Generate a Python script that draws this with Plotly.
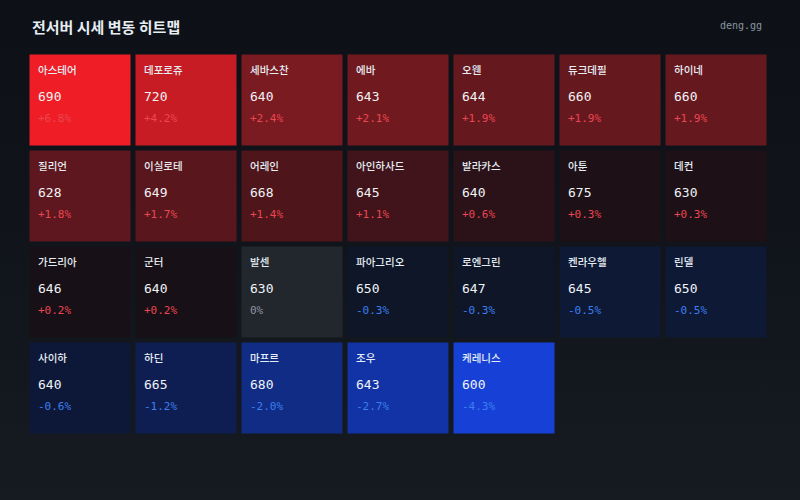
import plotly.graph_objects as go

# ---- data ----
names = ["아스테어", "데포로쥬", "세바스찬", "에바", "오웬", "듀크데필", "하이네",
         "질리언", "이실로테", "어레인", "아인하사드", "발라카스", "아툰", "데컨",
         "가드리아", "군터", "발센", "파아그리오", "로엔그린", "켄라우헬", "린델",
         "사이하", "하딘", "마프르", "조우", "케레니스"]
prices = [690, 720, 640, 643, 644, 660, 660,
          628, 649, 668, 645, 640, 675, 630,
          646, 640, 630, 650, 647, 645, 650,
          640, 665, 680, 643, 600]
changes = [6.8, 4.2, 2.4, 2.1, 1.9, 1.9, 1.9,
           1.8, 1.7, 1.4, 1.1, 0.6, 0.3, 0.3,
           0.2, 0.2, 0.0, -0.3, -0.3, -0.5, -0.5,
           -0.6, -1.2, -2.0, -2.7, -4.3]
title_text = "전서버 시세 변동 히트맵"
brand_text = "deng.gg"

# ---- layout constants ----
W, H = 800, 500
NCOL = 7
NROW = (len(names) + NCOL - 1) // NCOL
GAP = 5
GX0, GX1 = 27.5, 769.5   # grid pixel extents (cells incl. half gaps)
GY0, GY1 = 52.5, 436.5
CW = (GX1 - GX0) / NCOL
CH = (GY1 - GY0) / NROW

# colour anchors (change -> tile colour)
anchors = [(-4.3, "#1741d6"), (-2.7, "#1133a5"), (-2.0, "#112c85"), (-1.2, "#0f1e52"),
           (-0.6, "#0d1838"), (-0.5, "#0e1936"), (-0.3, "#0e1628"), (-0.05, "#0e1628"),
           (0.0, "#22272e"), (0.05, "#161016"), (0.2, "#171016"), (0.3, "#1d1117"),
           (0.6, "#2a1218"), (1.1, "#40141a"), (1.4, "#4e151b"), (1.7, "#5a161d"),
           (1.8, "#5e171e"), (1.9, "#66181f"), (2.1, "#701a20"), (2.4, "#7a1a21"),
           (4.2, "#c81c25"), (6.8, "#ee1d26")]
zmin, zmax = anchors[0][0], anchors[-1][0]
colorscale = [[(v - zmin) / (zmax - zmin), c] for v, c in anchors]

# ---- build grid ----
xs = list(range(NCOL))
ys = list(range(NROW))
z = [[None] * NCOL for _ in range(NROW)]
tx, ty = [], []
for i, ch in enumerate(changes):
    r, c = divmod(i, NCOL)
    z[r][c] = ch
    tx.append(c)
    ty.append(r)

pad_x = (GAP / 2 + 8) / CW
name_dy = (GAP / 2 + 16) / CH
price_dy = (GAP / 2 + 43) / CH
chg_dy = (GAP / 2 + 64) / CH

def fmt(v):
    if v > 0:
        return f"+{v:.1f}%"
    if v < 0:
        return f"{v:.1f}%"
    return "0%"

def chg_color(v):
    if v > 0:
        return "#ec4651"
    if v < 0:
        return "#3b7ff0"
    return "#8b949e"

fig = go.Figure()

# background gradient (full-paper subplot)
fig.add_trace(go.Scatter(
    x=[0, 1, 1, 0, 0], y=[0, 0, 1, 1, 0], mode="lines", fill="toself",
    line=dict(width=0), hoverinfo="skip", showlegend=False,
    fillgradient=dict(type="vertical", start=0, stop=1,
                      colorscale=[[0, "#161b21"], [0.6, "#10141a"], [1, "#0d1117"]]),
    xaxis="x", yaxis="y"))

fig.add_trace(go.Heatmap(
    x=xs, y=ys, z=z, zmin=zmin, zmax=zmax, colorscale=colorscale,
    xgap=GAP, ygap=GAP, showscale=False, hoverinfo="skip",
    xaxis="x2", yaxis="y2"))

tx_left = [c - 0.5 + pad_x for c in tx]

fig.add_trace(go.Scatter(
    x=tx_left, y=[r - 0.5 + name_dy for r in ty], mode="text", text=names,
    textposition="middle right", hoverinfo="skip", showlegend=False,
    textfont=dict(family="Noto Sans CJK KR", size=10.5, color="#e6edf3", weight=500),
    xaxis="x2", yaxis="y2"))

fig.add_trace(go.Scatter(
    x=tx_left, y=[r - 0.5 + price_dy for r in ty], mode="text",
    text=[str(p) for p in prices],
    textposition="middle right", hoverinfo="skip", showlegend=False,
    textfont=dict(family="DejaVu Sans Mono", size=13, color="#f0f3f6"),
    xaxis="x2", yaxis="y2"))

fig.add_trace(go.Scatter(
    x=tx_left, y=[r - 0.5 + chg_dy for r in ty], mode="text",
    text=[fmt(v) for v in changes],
    textposition="middle right", hoverinfo="skip", showlegend=False,
    textfont=dict(family="DejaVu Sans Mono", size=11, color=[chg_color(v) for v in changes]),
    xaxis="x2", yaxis="y2"))

fig.update_layout(
    width=W, height=H,
    margin=dict(l=0, r=0, t=0, b=0),
    paper_bgcolor="#0d1117", plot_bgcolor="rgba(0,0,0,0)",
    showlegend=False,
    xaxis=dict(domain=[0, 1], range=[0, 1], visible=False, fixedrange=True),
    yaxis=dict(domain=[0, 1], range=[0, 1], visible=False, fixedrange=True),
    xaxis2=dict(domain=[GX0 / W, GX1 / W], range=[-0.5, NCOL - 0.5], visible=False,
                anchor="y2", fixedrange=True),
    yaxis2=dict(domain=[1 - GY1 / H, 1 - GY0 / H], range=[NROW - 0.5, -0.5], visible=False,
                anchor="x2", fixedrange=True),
    annotations=[
        dict(text=title_text, x=30 / W, y=1 - 26.5 / H, xref="paper", yref="paper",
             xanchor="left", yanchor="middle", showarrow=False,
             font=dict(family="Noto Sans CJK KR", size=15, color="#e6edf3", weight=700)),
        dict(text=brand_text, x=764 / W, y=1 - 25.5 / H, xref="paper", yref="paper",
             xanchor="right", yanchor="middle", showarrow=False,
             font=dict(family="DejaVu Sans Mono", size=10, color="#8b949e")),
    ],
)

fig.write_html("out.html", config={"displayModeBar": False},
               post_script="document.body.style.margin='0';"
                           "document.body.style.background='#0d1117';"
                           "document.documentElement.style.overflow='hidden';")
